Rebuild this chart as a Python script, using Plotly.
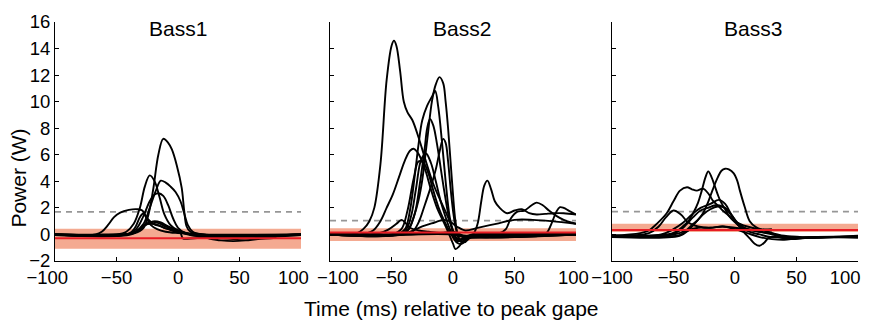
import plotly.graph_objects as go

# ---------------- data ----------------
PANEL_TITLES = ["Bass1", "Bass2", "Bass3"]
X_TICKS = [-100, -50, 0, 50, 100]
X_TICK_LABELS = ["−100", "−50", "0", "50", "100"]
Y_TICKS = [-2, 0, 2, 4, 6, 8, 10, 12, 14, 16]

# mean (red) line, shaded band (low, high) and dashed threshold for each panel
RED_LEVEL = [-0.28, 0.14, 0.33]
BAND_LOW = [-1.08, -0.50, 0.18]
BAND_HIGH = [0.43, 0.47, 0.80]
DASHED_LEVEL = [1.70, 1.04, 1.72]

# power curves: (time ms, power W) pairs for each trial
BASS1_CURVES = [
    ([-100, -60, -35, -28, -24, -20, -16, -12, -8, -5, -1, 3, 5, 7, 10, 15, 30, 50, 70, 100],
     [0, 0, 0.1, 0.5, 1.5, 3.5, 6.0, 7.2, 6.9, 6.4, 5.2, 3.5, 1.8, 0.6, 0.2, 0.05, -0.1, -0.15, -0.1, 0]),
    ([-100, -50, -42, -36, -31, -27, -23, -19, -15, -11, -6, 0, 10, 30, 60, 100],
     [0, 0, 0.2, 0.8, 2.0, 3.6, 4.45, 4.0, 2.8, 1.5, 0.7, 0.3, 0.05, -0.1, -0.1, 0]),
    ([-100, -45, -35, -28, -23, -18, -14, -10, -6, -2, 2, 5, 8, 12, 20, 40, 100],
     [0, 0, 0.2, 0.8, 2.0, 3.3, 4.05, 3.9, 3.6, 3.2, 2.5, 1.6, 0.7, 0.2, 0, -0.1, 0]),
    ([-100, -42, -34, -28, -23, -19, -16, -12, -8, -4, 0, 6, 15, 100],
     [0, 0, 0.4, 1.4, 2.5, 3.0, 3.1, 2.9, 2.2, 1.2, 0.5, 0.1, 0, 0]),
    ([-100, -67, -62, -57, -52, -47, -40, -33, -29, -26, -22, -17, -10, 0, 20, 100],
     [-0.05, 0, 0.2, 0.7, 1.3, 1.65, 1.85, 1.9, 1.8, 1.3, 0.7, 0.4, 0.2, 0.1, 0, 0]),
    ([-100, -42, -34, -28, -23, -19, -14, -8, 0, 8, 15, 25, 35, 45, 55, 65, 80],
     [0, 0, 0.2, 0.6, 0.9, 1.0, 0.9, 0.6, 0.3, 0.05, -0.1, -0.3, -0.45, -0.5, -0.45, -0.35, -0.25]),
    ([-100, -38, -31, -26, -21, -16, -10, -4, 2, 10, 25, 45, 65, 100],
     [-0.05, 0, 0.4, 0.8, 0.95, 0.85, 0.6, 0.35, 0.15, -0.05, -0.2, -0.35, -0.25, -0.05]),
    ([-100, -40, -35, -31, -28, -25, -20, -14, -8, -2, 2, 4, 10, 30, 60, 100],
     [0, 0.05, 0.5, 1.3, 1.6, 1.2, 0.8, 0.6, 0.4, 0.2, 0.1, -0.3, -0.3, -0.2, -0.15, 0]),
    ([-100, -40, -32, -27, -22, -16, -10, -3, 5, 20, 100],
     [0, 0, 0.3, 0.7, 0.8, 0.7, 0.45, 0.3, 0.1, -0.1, -0.05]),
]

BASS2_CURVES = [
    ([-100, -85, -78, -73, -68, -64, -59, -54, -50, -48, -46, -43, -40, -37, -33, -28, -22, -16, -10, -5, -1, 2, 5, 10, 20, 40, 70, 100],
     [0, 0, 0.1, 0.4, 1.0, 2.0, 5.3, 11.6, 14.2, 14.6, 14.2, 12.3, 10.0, 9.2, 8.6, 7.3, 5.5, 3.8, 2.5, 1.5, 0.6, -0.2, -0.5, -0.2, 0, -0.1, -0.1, 0]),
    ([-100, -45, -40, -36, -32, -28, -25, -21, -17, -14, -11, -8, -6, -4, -2, 0, 2, 5, 8, 12, 20, 100],
     [0, 0, 0.1, 0.4, 1.3, 2.6, 4.1, 7.1, 10.1, 11.3, 11.85, 11.4, 10.0, 8.0, 5.5, 3.0, 1.0, -0.4, -0.6, -0.2, 0, 0.05]),
    ([-100, -45, -39, -35, -31, -28, -25, -21, -17, -14.5, -12, -9, -6, -3, 0, 4, 10, 30, 100],
     [0, 0, 0.4, 1.8, 4.5, 6.8, 8.6, 9.7, 10.4, 10.8, 9.6, 7.0, 4.0, 1.5, 0.2, -0.4, -0.2, -0.1, 0]),
    ([-100, -42, -36, -31, -27, -23, -21, -18.7, -16, -13, -10, -7, -4, -1, 2, 6, 12, 100],
     [0, 0, 0.4, 1.6, 3.8, 6.5, 8.0, 8.7, 8.2, 6.8, 5.0, 3.2, 1.6, 0.5, -0.2, -0.4, -0.1, 0]),
    ([-100, -40, -33, -28, -23, -18, -14, -11, -8, -6, -4, -2, 0, 2, 5, 9, 15, 100],
     [0, 0, 0.2, 0.9, 2.2, 3.6, 4.9, 6.2, 7.2, 6.9, 5.5, 3.5, 1.8, 0.6, -0.3, -0.6, -0.2, 0]),
    ([-100, -75, -65, -59, -54, -49, -44, -39, -35, -32, -29, -26, -22, -18, -13, -8, -4, 0, 2, 5, 9, 15, 30, 100],
     [0, 0, 0.3, 1.0, 2.0, 3.0, 4.3, 5.6, 6.3, 6.45, 6.2, 5.7, 4.7, 3.4, 2.0, 1.0, 0.2, -0.7, -1.1, -0.9, -0.4, 0, -0.1, 0]),
    ([-100, -45, -38, -34, -30, -26, -22, -18, -14, -10, -6, -2, 3, 10, 30, 100],
     [0, 0, 0.4, 1.4, 3.5, 5.6, 6.1, 5.4, 4.0, 2.5, 1.3, 0.3, -0.5, -0.3, -0.2, 0]),
    ([-100, -50, -42, -37, -32, -28, -24, -20, -16, -12, -7, -2, 3, 7, 14, 100],
     [0, 0, 0.4, 1.8, 4.2, 5.5, 5.4, 4.6, 3.3, 2.1, 1.0, 0.1, -0.6, -0.7, -0.2, 0]),
    ([-100, -40, -10, 0, 6, 12, 17, 20, 23, 25.5, 28, 31, 34, 38, 44, 50, 56, 62, 68, 75, 82, 90, 100],
     [0, 0, 0.1, 0.2, 0, -0.3, 0.1, 0.8, 2.5, 3.7, 4.05, 3.4, 2.5, 2.0, 1.6, 1.8, 1.9, 1.6, 1.5, 1.55, 1.6, 1.6, 1.5]),
    ([-100, -40, 0, 10, 20, 30, 38, 43, 47, 52, 58, 64, 68, 73, 78, 84, 90, 96, 100],
     [0, 0, 0.1, -0.2, -0.1, 0, 0.1, 0.4, 1.2, 1.7, 1.8, 2.2, 2.4, 2.2, 1.8, 1.4, 1.1, 0.9, 0.8]),
    ([-100, -40, 0, 20, 50, 70, 76, 80, 84, 87, 90, 94, 100],
     [0, 0, 0, -0.2, -0.2, -0.1, 0.1, 0.8, 1.7, 2.05, 2.0, 1.8, 1.5]),
    ([-100, -45, -35, -25, -15, -8, -3, 3, 10, 20, 35, 50, 65, 80, 100],
     [0, 0, 0.2, 0.6, 0.9, 1.1, 1.0, 0.6, 0.3, 0.5, 0.8, 1.1, 1.1, 1.0, 0.8]),
    ([-100, -60, -52, -46, -42, -39, -35, -28, -20, -10, 0, 10, 100],
     [0, 0.1, 0.4, 0.8, 1.1, 0.9, 0.5, 0.3, 0.2, 0.1, 0, -0.2, 0]),
]

BASS3_CURVES = [
    ([-100, -50, -40, -34, -30, -26, -22, -18, -14, -11, -8, -5, -1, 2, 4, 8, 12, 17, 22, 30, 40, 60, 100],
     [-0.1, 0, 0.3, 0.8, 1.1, 1.6, 2.4, 3.4, 4.3, 4.8, 4.95, 4.9, 4.6, 4.0, 3.3, 2.05, 1.0, 0.55, 0.35, 0.1, -0.3, -0.2, -0.15]),
    ([-100, -55, -48, -43, -38, -34, -30, -27, -24, -21.7, -19, -17, -14, -12, -8, -4, 0, 4, 10, 20, 30],
     [-0.1, 0.0, 0.2, 0.55, 1.0, 1.6, 2.4, 3.3, 4.3, 4.75, 4.3, 3.8, 3.0, 2.55, 1.9, 1.3, 1.0, 0.8, 0.6, 0.4, 0.4]),
    ([-100, -77, -70, -63.6, -55.5, -50, -44.7, -39, -35, -31, -26, -21, -18, -13, -10, -5, -1, 4, 10, 20, 30],
     [-0.1, 0.1, 0.3, 0.8, 1.6, 2.5, 3.3, 3.55, 3.4, 3.3, 3.45, 3.0, 2.55, 2.1, 1.8, 1.4, 1.0, 0.6, 0.4, 0.3, 0.3]),
    ([-100, -60, -50, -42, -35, -28, -20, -13, -8, -3, 3, 10, 20, 30, 40, 55, 75, 100],
     [-0.15, 0, 0.4, 0.9, 1.5, 2.0, 2.3, 2.6, 2.3, 1.5, 0.8, 0.4, 0.2, 0.1, -0.1, -0.2, -0.2, -0.1]),
    ([-100, -45, -38, -32, -26, -20, -14, -8, -3, 2, 7, 12, 16, 20, 24, 28, 35, 45, 60, 100],
     [-0.2, -0.1, 0.3, 0.9, 1.5, 1.9, 2.1, 2.0, 1.5, 0.8, 0.2, -0.3, -0.7, -0.85, -0.6, -0.2, -0.2, -0.35, -0.25, -0.2]),
    ([-100, -52, -45, -40, -34, -28, -22, -16, -10, -5, 0, 5, 12, 20, 30, 100],
     [-0.1, 0, 0.3, 0.7, 1.3, 1.8, 2.0, 2.2, 2.1, 1.7, 1.0, 0.5, 0.2, 0.0, -0.2, -0.15]),
    ([-100, -70, -62, -56, -50, -44, -38, -30, -20, -10, 0, 10, 20, 30, 40, 60, 80, 100],
     [-0.1, 0.1, 0.6, 1.3, 1.8, 1.5, 0.9, 0.6, 0.5, 0.6, 0.5, 0.4, 0.2, 0.0, -0.15, -0.25, -0.2, -0.25]),
    ([-100, -55, -45, -38, -30, -20, -10, 0, 10, 20, 30, 40, 50, 70, 100],
     [-0.2, -0.15, -0.05, 0.3, 0.5, 0.5, 0.6, 0.4, 0.1, -0.2, -0.35, -0.4, -0.3, -0.2, -0.2]),
]

ALL_CURVES = [BASS1_CURVES, BASS2_CURVES, BASS3_CURVES]

# ---------------- figure ----------------
FONT = "Liberation Sans, Arial, Helvetica, sans-serif"
BAND_COLOR = "rgb(244,170,145)"
RED = "rgb(232,28,36)"
GRAY = "rgb(150,150,150)"
NB = "\u00a0"

domains = [[0.0, 0.3064], [0.3425, 0.6488], [0.6936, 1.0]]
# end labels are nudged inward in the reference (first, last label padding)
label_pad = [(0, 3, 0, 3), (3, 0, 0, 1), (0, 0, 0, 5)]  # (lead first, trail first, lead last, trail last)

fig = go.Figure()

for i in range(3):
    xa = "x" if i == 0 else f"x{i + 1}"
    ya = "y" if i == 0 else f"y{i + 1}"
    # shaded band
    fig.add_trace(go.Scatter(
        x=[X_TICKS[0], X_TICKS[-1], X_TICKS[-1], X_TICKS[0]],
        y=[BAND_LOW[i], BAND_LOW[i], BAND_HIGH[i], BAND_HIGH[i]],
        fill="toself", fillcolor=BAND_COLOR, line=dict(width=0),
        mode="lines", xaxis=xa, yaxis=ya, hoverinfo="skip", showlegend=False))
    # dashed threshold
    fig.add_trace(go.Scatter(
        x=[X_TICKS[0], X_TICKS[-1]], y=[DASHED_LEVEL[i], DASHED_LEVEL[i]],
        mode="lines", line=dict(color=GRAY, width=1.6, dash="6px,5px"),
        xaxis=xa, yaxis=ya, showlegend=False))
    # trial curves
    for t, p in ALL_CURVES[i]:
        fig.add_trace(go.Scatter(
            x=t, y=p, mode="lines",
            line=dict(color="black", width=1.9, shape="spline", smoothing=1.0),
            xaxis=xa, yaxis=ya, showlegend=False))
    # red mean line
    fig.add_trace(go.Scatter(
        x=[X_TICKS[0], X_TICKS[-1]], y=[RED_LEVEL[i], RED_LEVEL[i]],
        mode="lines", line=dict(color=RED, width=2),
        xaxis=xa, yaxis=ya, showlegend=False))

axis_common = dict(
    showline=True, linecolor="black", linewidth=1,
    ticks="inside", ticklen=4, tickcolor="black", tickwidth=1,
    showgrid=False, zeroline=False, mirror=False, automargin=False,
    ticklabeloverflow="allow",
    tickfont=dict(family=FONT, size=18.5, color="black"),
)

layout = dict(
    template="none",
    width=869, height=320,
    margin=dict(l=55, r=11, t=22, b=59, autoexpand=False),
    paper_bgcolor="white", plot_bgcolor="white",
    font=dict(family=FONT, color="black"),
    showlegend=False,
)

title_x = [0, 7.7, 14.6]
annotations = []
for i in range(3):
    xk = "xaxis" if i == 0 else f"xaxis{i + 1}"
    yk = "yaxis" if i == 0 else f"yaxis{i + 1}"
    anchor_x = "x" if i == 0 else f"x{i + 1}"
    anchor_y = "y" if i == 0 else f"y{i + 1}"
    lf, tf, ll, tl = label_pad[i]
    texts = list(X_TICK_LABELS)
    texts[0] = NB * lf + texts[0] + NB * tf
    texts[-1] = NB * ll + texts[-1] + NB * tl
    layout[xk] = dict(axis_common, domain=domains[i], range=[X_TICKS[0], X_TICKS[-1]],
                      tickvals=X_TICKS, ticktext=texts, anchor=anchor_y)
    layout[yk] = dict(axis_common, domain=[0, 1], range=[Y_TICKS[0], Y_TICKS[-1]],
                      tickvals=Y_TICKS, anchor=anchor_x, showticklabels=(i == 0))
    annotations.append(dict(
        text=PANEL_TITLES[i], x=title_x[i], y=15.5, xref=anchor_x, yref=anchor_y,
        showarrow=False, font=dict(family=FONT, size=21, color="black"),
        xanchor="center", yanchor="middle"))

annotations.append(dict(
    text="Time (ms) relative to peak gape", x=0.494, y=-0.2, xref="paper", yref="paper",
    yanchor="middle", xanchor="center", showarrow=False,
    font=dict(family=FONT, size=21, color="black")))
annotations.append(dict(
    text="Power (W)", x=-0.046, y=0.345, xref="paper", yref="paper", textangle=-90,
    yanchor="middle", xanchor="center", showarrow=False,
    font=dict(family=FONT, size=21, color="black")))
layout["annotations"] = annotations

fig.update_layout(**layout)
fig.write_html(
    "out.html",
    config={"displayModeBar": False, "staticPlot": True},
    post_script="document.body.style.margin='0';document.body.style.overflow='hidden';",
)
